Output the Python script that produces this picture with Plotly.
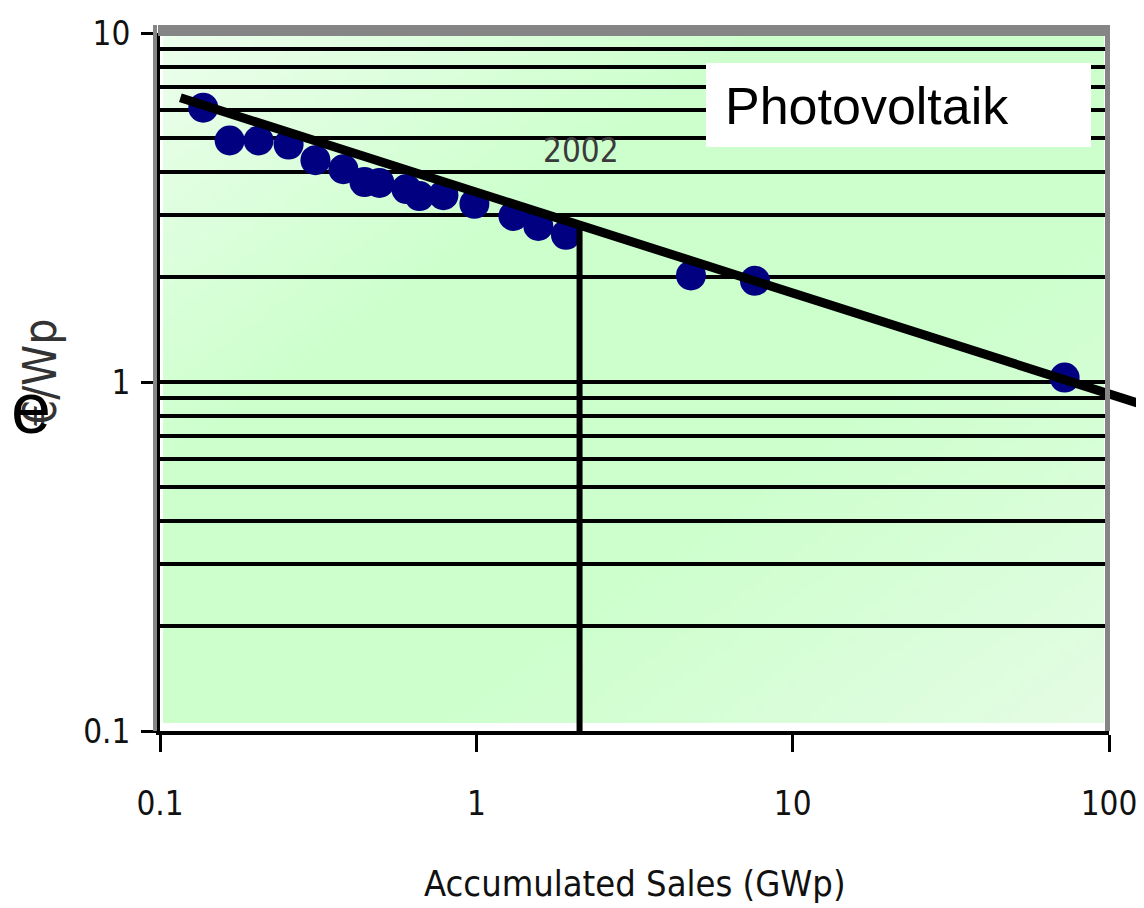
import base64
import struct
import zlib

import plotly.graph_objects as go

# ---------------- data ----------------
sales_gwp = [0.137, 0.166, 0.205, 0.255, 0.310, 0.380, 0.443, 0.494, 0.601,
             0.661, 0.787, 0.986, 1.31, 1.57, 1.92, 4.77, 7.60, 72.4]
price_eur_wp = [6.11, 4.92, 4.92, 4.79, 4.32, 4.07, 3.74, 3.72, 3.57,
                3.41, 3.43, 3.24, 2.99, 2.80, 2.64, 2.02, 1.95, 1.03]

fit_x = [0.116, 135.0]
fit_y = [6.52, 0.848]

marker_2002_x = [2.12, 2.12]
marker_2002_y = [0.1, 2.85]

x_tick_vals = [0.1, 1, 10, 100]
x_tick_text = ["0.1", "1", "10", "100"]
y_tick_vals = [0.1, 1, 10]
y_tick_text = ["0.1", "1", "10"]

# ---------------- layout geometry ----------------
# the page body has an 8 px margin, so the figure starts at (8, 8)
OFF = 8
W, H = 1144 - OFF, 908 - OFF
L, R, T = 160 - OFF, 0, 33 - OFF
B = H - (731 - OFF)
plot_w = W - L - R
plot_h = H - T - B
main_w = 949
main_dom = main_w / plot_w
x2_max = -1 + 3 * plot_w / main_w

NARROW = "DejaVu Sans Condensed, Liberation Sans Narrow, sans-serif"
ARIAL = "Liberation Sans, Arial, sans-serif"


def px_x(px):  # page pixel -> paper x
    return (px - OFF - L) / plot_w


def px_y(py):  # page pixel -> paper y
    return (H - B - (py - OFF)) / plot_h


# ---------------- background gradient image ----------------
def gradient_png(w, h):
    tl = (236, 254, 236)
    mid = (204, 255, 204)
    br = (228, 252, 228)
    rows = []
    for j in range(h):
        v = j / (h - 1)
        row = bytearray([0])
        for i in range(w):
            u = i / (w - 1)
            t = u + v
            if t < 0.65:
                f = t / 0.65
                c = [round(tl[k] + (mid[k] - tl[k]) * f) for k in range(3)]
            elif t < 1.25:
                c = list(mid)
            else:
                f = min(1.0, (t - 1.25) / 0.75)
                c = [round(mid[k] + (br[k] - mid[k]) * f) for k in range(3)]
            row.extend(c)
        rows.append(bytes(row))
    raw = b"".join(rows)

    def chunk(tag, data):
        return (struct.pack(">I", len(data)) + tag + data +
                struct.pack(">I", zlib.crc32(tag + data) & 0xffffffff))

    png = (b"\x89PNG\r\n\x1a\n" +
           chunk(b"IHDR", struct.pack(">IIBBBBB", w, h, 8, 2, 0, 0, 0)) +
           chunk(b"IDAT", zlib.compress(raw, 9)) +
           chunk(b"IEND", b""))
    return "data:image/png;base64," + base64.b64encode(png).decode()


fig = go.Figure()

fig.add_trace(go.Scatter(
    x=sales_gwp, y=price_eur_wp, mode="markers",
    marker=dict(symbol="circle", size=30, color="#000080", line=dict(width=0)),
    xaxis="x", yaxis="y", showlegend=False, hoverinfo="skip"))

fig.add_trace(go.Scatter(
    x=marker_2002_x, y=marker_2002_y, mode="lines",
    line=dict(color="black", width=6),
    xaxis="x", yaxis="y", showlegend=False, hoverinfo="skip"))

fig.add_trace(go.Scatter(
    x=fit_x, y=fit_y, mode="lines",
    line=dict(color="black", width=9),
    xaxis="x2", yaxis="y2", showlegend=False, hoverinfo="skip"))

tickfont = dict(family=NARROW, size=33, color="#111111")

fig.update_layout(
    width=W, height=H,
    autosize=False,
    margin=dict(l=L, r=R, t=T, b=B, pad=0, autoexpand=False),
    paper_bgcolor="white",
    plot_bgcolor="rgba(0,0,0,0)",
    showlegend=False,
    xaxis=dict(
        type="log", range=[-1, 2], domain=[0, main_dom], anchor="y",
        automargin=False,
        showline=True, linecolor="black", linewidth=4,
        ticks="outside", ticklen=17, tickwidth=3, tickcolor="black",
        tickvals=x_tick_vals, ticktext=x_tick_text, tickfont=tickfont,
        ticklabelstandoff=23,
        showgrid=False, zeroline=False),
    yaxis=dict(
        type="log", range=[-1, 1], domain=[0, 1], anchor="x",
        automargin=False,
        showline=True, linecolor="black", linewidth=4,
        ticks="outside", ticklen=15, tickwidth=3, tickcolor="black",
        tickvals=y_tick_vals, ticktext=y_tick_text, tickfont=tickfont,
        ticklabelstandoff=4,
        showgrid=True, gridcolor="black", gridwidth=4,
        minor=dict(dtick="D1", showgrid=True, gridcolor="black", gridwidth=4,
                   ticks=""),
        zeroline=False),
    xaxis2=dict(type="log", range=[-1, x2_max], domain=[0, 1], anchor="y2",
                automargin=False, visible=False),
    yaxis2=dict(type="log", range=[-1, 1], domain=[0, 1], anchor="x2",
                automargin=False, visible=False),
)

# background gradient of the plot area (paper coordinates = plot area)
fig.add_layout_image(dict(
    source=gradient_png(120, 90),
    xref="paper", yref="paper",
    x=px_x(163), y=px_y(36),
    sizex=(1104 - 163) / plot_w, sizey=(723 - 36) / plot_h,
    xanchor="left", yanchor="top", sizing="stretch", layer="below"))

# plot-area frame (grey)
fig.add_shape(type="rect", xref="paper", yref="paper",
              x0=px_x(158), x1=px_x(1109), y0=px_y(36), y1=px_y(25),
              fillcolor="#858585", line=dict(width=0), layer="above")
fig.add_shape(type="rect", xref="paper", yref="paper",
              x0=px_x(1105), x1=px_x(1110), y0=px_y(731), y1=px_y(25),
              fillcolor="#858585", line=dict(width=0), layer="above")
fig.add_shape(type="rect", xref="paper", yref="paper",
              x0=px_x(153), x1=px_x(157), y0=px_y(731), y1=px_y(25),
              fillcolor="#858585", line=dict(width=0), layer="above")

# "Photovoltaik" box
fig.add_shape(type="rect", xref="paper", yref="paper",
              x0=px_x(706), x1=px_x(1091), y0=px_y(147), y1=px_y(63),
              fillcolor="white", line=dict(width=0), layer="above")
fig.add_annotation(text="Photovoltaik", xref="paper", yref="paper",
                   x=px_x(723), y=px_y(106), xanchor="left", yanchor="middle",
                   showarrow=False, font=dict(family=ARIAL, size=52, color="black"))

# "2002" label
fig.add_annotation(text="2002", xref="paper", yref="paper",
                   x=px_x(581), y=px_y(150), xanchor="center", yanchor="middle",
                   showarrow=False, font=dict(family=NARROW, size=33, color="#3a3a3a"))

# axis titles
fig.add_annotation(text="Accumulated Sales (GWp)", xref="paper", yref="paper",
                   x=px_x(635), y=px_y(883), xanchor="center", yanchor="middle",
                   showarrow=False, font=dict(family=NARROW, size=36, color="#111111"))
fig.add_annotation(text="€/Wp", xref="paper", yref="paper",
                   x=px_x(40), y=px_y(373), xanchor="center", yanchor="middle",
                   textangle=-90, showarrow=False,
                   font=dict(family=NARROW, size=46, color="#333333"))

# fragment of the surrounding slide text
fig.add_annotation(text="e", xref="paper", yref="paper",
                   x=px_x(31), y=px_y(408), xanchor="center", yanchor="middle",
                   showarrow=False, font=dict(family=ARIAL, size=72, color="black"))

fig.write_html("out.html")
